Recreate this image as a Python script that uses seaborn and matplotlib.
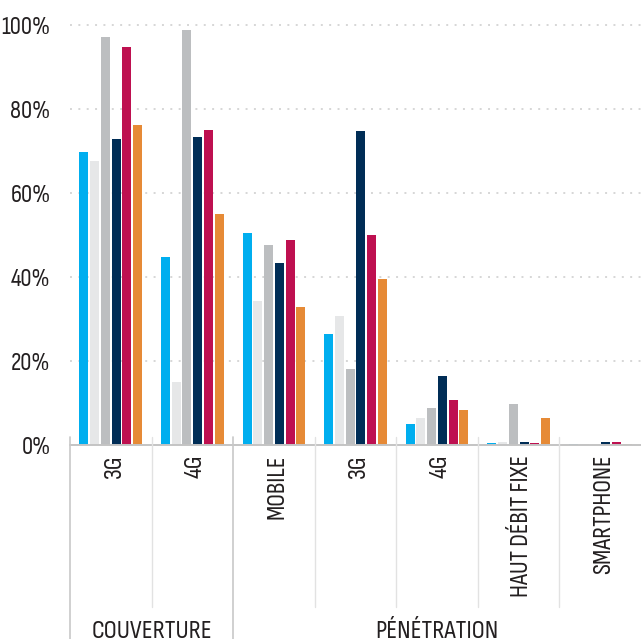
import matplotlib
matplotlib.use("Agg")
import matplotlib.pyplot as plt
import matplotlib.transforms as mtransforms
import pandas as pd
import seaborn as sns

# Categories (unique keys) and the labels printed under each one
category_keys = ["couv_3g", "couv_4g", "pen_mobile", "pen_3g", "pen_4g", "pen_hd_fixe", "pen_smartphone"]
tick_labels = ["3G", "4G", "MOBILE", "3G", "4G", "HAUT DÉBIT FIXE", "SMARTPHONE"]
groups = ["COUVERTURE", "PÉNÉTRATION"]
group_sizes = [2, 5]

series_names = ["S1", "S2", "S3", "S4", "S5", "S6"]
colors = ["#00AEEF", "#E6E7E8", "#BCBEC0", "#002D56", "#BE1050", "#E68A36"]

# Values in percent, one list per series, in category order
s1 = [69.8, 44.8, 50.5, 26.4, 5.1, 0.4, 0.3]
s2 = [67.6, 15.0, 34.3, 30.7, 6.4, 0.8, 0.2]
s3 = [97.2, 98.8, 47.6, 18.1, 8.8, 9.8, 0.1]
s4 = [72.9, 73.3, 43.3, 74.7, 16.4, 0.8, 0.6]
s5 = [94.8, 74.9, 48.8, 50.0, 10.6, 0.4, 0.7]
s6 = [76.2, 55.0, 32.9, 39.5, 8.3, 6.5, 0.3]

y_ticks = [0, 20, 40, 60, 80, 100]
y_tick_labels = ["0%", "20%", "40%", "60%", "80%", "100%"]

rows = []
for name, vals in zip(series_names, [s1, s2, s3, s4, s5, s6]):
    for key, v in zip(category_keys, vals):
        rows.append({"category": key, "series": name, "value": v})
df = pd.DataFrame(rows)

sns.set_theme(style="white")
font = ["Sofia Sans Condensed", "DejaVu Sans"]
plt.rcParams["font.family"] = font
text_color = "#231F20"

W, H = 641, 639
fig = plt.figure(figsize=(W / 100, H / 100), dpi=100)
ax = fig.add_axes([70 / W, (H - 445) / H, (W - 70) / W, 420 / H])

sns.barplot(
    data=df, x="category", y="value", hue="series",
    order=category_keys, hue_order=series_names, palette=colors,
    saturation=1, width=0.79, gap=0.16, linewidth=0,
    legend=False, ax=ax,
)

ax.set_ylim(0, 100)
ax.set_xlim(-0.5, len(category_keys) - 0.5)
for s in ax.spines.values():
    s.set_visible(False)
ax.set_xlabel("")
ax.set_ylabel("")

# dotted horizontal grid
for yv in y_ticks[1:]:
    ax.axhline(yv, color="#D6D6D6", lw=1.4, ls=(0, (1, 3.3)), zorder=0, clip_on=False)
# baseline
ax.axhline(0, color="#C4C4C4", lw=1.4, zorder=3, clip_on=False)

ax.set_yticks(y_ticks)
ax.set_yticklabels(y_tick_labels, fontsize=18, color=text_color)
ax.tick_params(axis="y", length=0, pad=14)

ax.set_xticks([i + 0.04 for i in range(len(category_keys))])
ax.set_xticklabels(tick_labels, rotation=90, fontsize=18.5, color=text_color)
ax.tick_params(axis="x", length=0, pad=7)

# separators between categories and between groups
trans = mtransforms.blended_transform_factory(ax.transData, ax.transAxes)
group_edges = [-0.5]
for n in group_sizes:
    group_edges.append(group_edges[-1] + n)
for i in range(len(category_keys)):
    xe = i - 0.5
    if xe in group_edges:
        ax.plot([xe, xe], [0.019, -0.47], transform=trans, color="#C8C8C8",
                lw=1.2, clip_on=False, zorder=3)
    else:
        ax.plot([xe, xe], [0.019, -0.386], transform=trans, color="#E2E2E2",
                lw=1.0, clip_on=False, zorder=3)

# group titles
for g, a, b in zip(groups, group_edges[:-1], group_edges[1:]):
    ax.text((a + b) / 2, -0.459, g, transform=trans, ha="center", va="baseline",
            fontsize=19, color=text_color)

fig.savefig("out.png", dpi=100)
